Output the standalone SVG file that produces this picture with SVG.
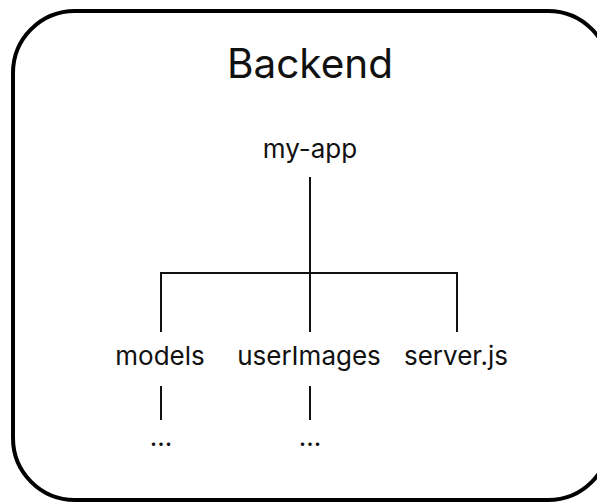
<svg xmlns="http://www.w3.org/2000/svg" width="597" height="504" viewBox="0 0 597 504">
  <style>
    .frame { fill: #ffffff; stroke: #000000; stroke-width: 4; }
    .title { font-family: Inter, "Liberation Sans", sans-serif; font-size: 40.5px; fill: #111111; text-anchor: middle; }
    .label { font-family: Inter, "Liberation Sans", sans-serif; font-size: 26px; fill: #111111; text-anchor: middle; }
    .edge { fill: none; stroke: #111111; stroke-width: 2; }
  </style>
  <rect width="597" height="504" fill="#ffffff"/>
  <g id="backend">
    <rect class="frame" x="13" y="11" width="597" height="489" rx="62" ry="62"/>
    <text class="title" x="310" y="78">Backend</text>
  </g>
  <g id="connectors">
    <path class="edge" d="M310 177 V273 M161 332 V273 H457 V332 M310 273 V332"/>
    <path class="edge" d="M161 386 V420 M310 386 V420"/>
  </g>
  <g id="my-app"><text class="label" x="310" y="158">my-app</text></g>
  <g id="models"><text class="label" x="160" y="365">models</text></g>
  <g id="userImages"><text class="label" x="309" y="365">userImages</text></g>
  <g id="server-js"><text class="label" x="456" y="365">server.js</text></g>
  <g id="models-more"><text class="label" x="161" y="446">...</text></g>
  <g id="userImages-more"><text class="label" x="310" y="446">...</text></g>
</svg>
